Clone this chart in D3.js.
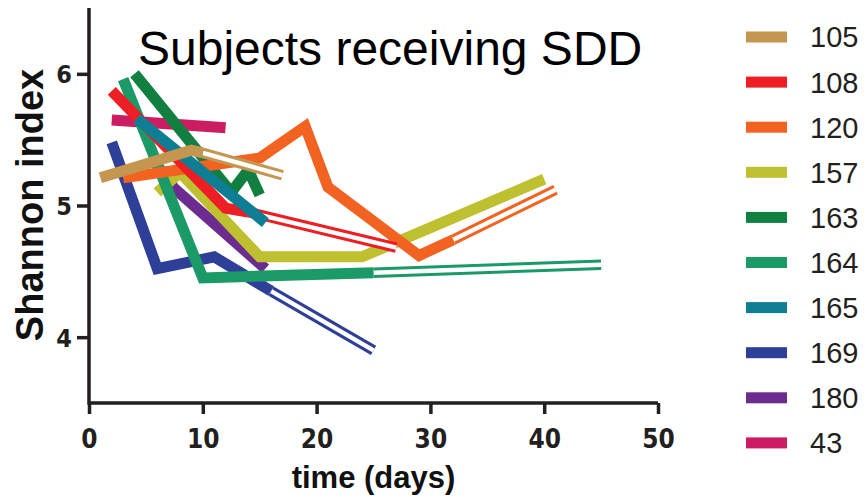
<!DOCTYPE html>
<html>
<head>
<meta charset="utf-8">
<script src="https://cdn.jsdelivr.net/npm/d3@7/dist/d3.min.js"></script>
<style>
  html, body { margin: 0; padding: 0; background: #fff; }
  svg { display: block; }
</style>
</head>
<body>
<svg id="chart" width="864" height="500"></svg>
<script>
// ---- data ----
const subjects = ["105", "108", "120", "157", "163", "164", "165", "169", "180", "43"];
const colors   = ["#c49650", "#ed1f24", "#f26322", "#bfc02f", "#107f40", "#1b9a67", "#0e7e94", "#2e3f98", "#6c2c8f", "#cc1c62"];

// measured segments: [day, Shannon index]
const solid105 = [[1, 5.21], [9, 5.42], [10, 5.40]];
const hollow105 = [[10, 5.40], [17, 5.23]];
const solid108 = [[2, 5.87], [12, 4.98], [14, 4.95]];
const hollow108 = [[14, 4.95], [27, 4.68]];
const solid120 = [[3, 5.21], [15, 5.36], [19, 5.60], [21, 5.14], [29, 4.62], [32, 4.74]];
const hollow120 = [[32, 4.74], [41, 5.12]];
const solid157 = [[6, 5.10], [8, 5.25], [15, 4.61], [24, 4.61], [40, 5.20]];
const hollow157 = [];
const solid163 = [[4, 6.00], [12.5, 5.10], [14, 5.27], [15, 5.08]];
const hollow163 = [];
const solid164 = [[3, 5.96], [10, 4.45], [25, 4.49]];
const hollow164 = [[25, 4.49], [45, 4.55]];
const solid165 = [[4.2, 5.66], [15.5, 4.87]];
const hollow165 = [];
const solid169 = [[2, 5.48], [6, 4.52], [11, 4.61], [16, 4.35]];
const hollow169 = [[16, 4.35], [25, 3.90]];
const solid180 = [[5.5, 5.36], [7.5, 5.13], [15.5, 4.52]];
const hollow180 = [];
const solid43 = [[2, 5.65], [12, 5.59]];
const hollow43 = [];

const xTicks = [0, 10, 20, 30, 40, 50];
const yTicks = [4, 5, 6];
const xDomain = [0, 50];
const yDomain = [3.5, 6.5];
const titleText = "Subjects receiving SDD";
const xLabel = "time (days)";
const yLabel = "Shannon index";

// ---- build table ----
const solids = [solid105, solid108, solid120, solid157, solid163, solid164, solid165, solid169, solid180, solid43];
const hollows = [hollow105, hollow108, hollow120, hollow157, hollow163, hollow164, hollow165, hollow169, hollow180, hollow43];
const table = subjects.map((s, i) => ({ name: s, color: colors[i], solid: solids[i], hollow: hollows[i] }));
// drawing order bottom -> top
const drawOrder = ["43", "169", "180", "157", "164", "163", "120", "108", "165", "105"];

// ---- layout ----
const svg = d3.select("#chart");
const ink = "#231f20";
const x = d3.scaleLinear().domain(xDomain).range([89, 658]);
const y = d3.scaleLinear().domain(yDomain).range([403, 8]);

const line = d3.line().x(d => x(d[0])).y(d => y(d[1]));

const plot = svg.append("g");
drawOrder.forEach(name => {
  const s = table.find(t => t.name === name);
  const g = plot.append("g");
  if (s.hollow.length) {
    g.append("path").attr("d", line(s.hollow)).attr("fill", "none")
      .attr("stroke", s.color).attr("stroke-width", 10.5).attr("stroke-linejoin", "miter");
    g.append("path").attr("d", line(s.hollow)).attr("fill", "none")
      .attr("stroke", "#fff").attr("stroke-width", 4.5);
  }
  g.append("path").attr("d", line(s.solid)).attr("fill", "none")
    .attr("stroke", s.color).attr("stroke-width", 11)
    .attr("stroke-linejoin", "miter").attr("stroke-miterlimit", 4);
});

// ---- axes ----
const tickFont = "'Liberation Sans Narrow', 'DejaVu Sans Condensed', 'Liberation Sans', Arial, sans-serif";

const xAxis = svg.append("g").attr("transform", `translate(0,${y(3.5)})`)
  .call(d3.axisBottom(x).tickValues(xTicks).tickSize(11).tickSizeOuter(0).tickFormat(d3.format("d")));
xAxis.select(".domain").remove();
xAxis.selectAll(".tick line").attr("stroke", ink).attr("stroke-width", 3.5);
xAxis.selectAll(".tick text").attr("fill", ink).attr("y", 45).attr("dy", 0)
  .style("font-family", tickFont).style("font-weight", "bold").style("font-size", "26px");

const yAxis = svg.append("g").attr("transform", `translate(${x(0)},0)`)
  .call(d3.axisLeft(y).tickValues(yTicks).tickSize(12).tickSizeOuter(0).tickFormat(d3.format("d")));
yAxis.select(".domain").remove();
yAxis.selectAll(".tick line").attr("stroke", ink).attr("stroke-width", 3.5);
yAxis.selectAll(".tick text").attr("fill", ink).attr("x", -17).attr("dy", "0.36em")
  .style("font-family", tickFont).style("font-weight", "bold").style("font-size", "25px");

svg.append("path")
  .attr("d", `M${x(0)},${y(yDomain[1])}V${y(yDomain[0])}H${x(xDomain[1])}`)
  .attr("fill", "none").attr("stroke", ink).attr("stroke-width", 3.5)
  .attr("stroke-linejoin", "miter");

// ---- labels ----
svg.append("text").attr("x", 138).attr("y", 65)
  .style("font-family", "'Liberation Sans', Arial, sans-serif").style("font-size", "48px")
  .attr("fill", "#000").text(titleText);

svg.append("text").attr("x", (x(0) + x(50)) / 2).attr("y", 488).attr("text-anchor", "middle")
  .style("font-family", "'Liberation Sans', Arial, sans-serif").style("font-weight", "bold").style("font-size", "31px")
  .attr("fill", "#111").text(xLabel);

svg.append("text").attr("transform", "translate(43,205) rotate(-90)").attr("text-anchor", "middle")
  .style("font-family", "'Liberation Sans', Arial, sans-serif").style("font-weight", "bold").style("font-size", "38px")
  .attr("fill", "#111").text(yLabel);

// ---- legend ----
const legend = svg.append("g");
table.forEach((s, i) => {
  const cy = 37 + i * 45.1;
  legend.append("rect").attr("x", 746).attr("y", cy - 5.5).attr("width", 41).attr("height", 11).attr("fill", s.color);
  legend.append("text").attr("x", 810).attr("y", cy).attr("dy", "0.36em")
    .style("font-family", "'Liberation Sans', Arial, sans-serif").style("font-size", "29px")
    .attr("fill", ink).text(s.name);
});
</script>
</body>
</html>
